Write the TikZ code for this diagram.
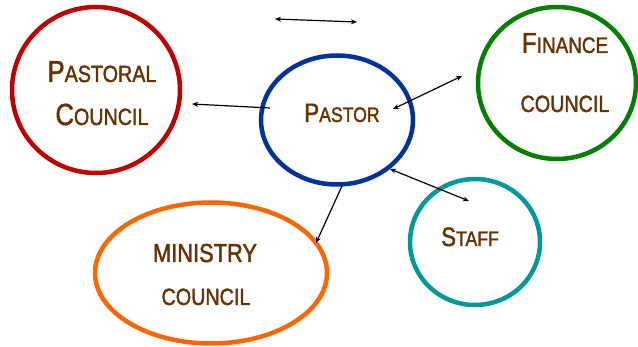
\documentclass[tikz,border=0pt]{standalone}
\usepackage{fontspec}
\newfontfamily\twfont[FakeStretch=0.84,FakeBold=1.6]{Liberation Sans}
\usetikzlibrary{shapes.geometric,arrows.meta}
\definecolor{brn}{HTML}{663300}
\definecolor{cred}{HTML}{C00000}
\definecolor{cblue}{HTML}{003399}
\definecolor{cgreen}{HTML}{008000}
\definecolor{corange}{HTML}{FF6600}
\definecolor{cteal}{HTML}{009999}
\newcommand\fsz[2]{{\fontsize{#1}{#1}\selectfont #2}}
\begin{document}
\begin{tikzpicture}[x=1pt,y=-1pt,
  bubble/.style={ellipse,draw,line width=4.5pt,inner sep=0pt,outer sep=0pt},
  lbl/.style={anchor=base,text=brn,inner sep=0pt,font=\twfont},
  conn/.style={line width=1.2pt,-{Stealth[length=6pt,width=5pt]}},
  conn2/.style={line width=1.2pt,{Stealth[length=6pt,width=5pt]}-{Stealth[length=6pt,width=5pt]}}]
\useasboundingbox (0,0) rectangle (638,347);
% bubbles
\node[bubble,draw=cred,minimum width=168pt,minimum height=166pt] (pc) at (96,90) {};
\node[bubble,draw=cblue,minimum width=152pt,minimum height=129pt] (pa) at (337,120) {};
\node[bubble,draw=cgreen,minimum width=158pt,minimum height=152pt] (fc) at (557,83) {};
\node[bubble,draw=corange,minimum width=232pt,minimum height=141pt] (mc) at (211,273) {};
\node[bubble,draw=cteal,minimum width=130pt,minimum height=126pt] (st) at (475,242) {};
% labels
\node[lbl] (pc1) at (102,82) {\fsz{30.5}{P}\fsz{23.5}{ASTORAL}};
\node[lbl] (pc2) at (102,125) {\fsz{30.5}{C}\fsz{23.5}{OUNCIL}};
\node[lbl] (pa1) at (342,122) {\fsz{26.5}{P}\fsz{21}{ASTOR}};
\node[lbl] (fc1) at (565,53) {\fsz{29}{F}\fsz{22.5}{INANCE}};
\node[lbl] (fc2) at (565,112) {\fsz{23.5}{COUNCIL}};
\node[lbl] (mc1) at (205,262) {\fsz{26}{MINISTRY}};
\node[lbl] (mc2) at (206,305) {\fsz{23.5}{COUNCIL}};
\node[lbl] (st1) at (470,246) {\fsz{26.5}{S}\fsz{21}{TAFF}};
% connector end points
\coordinate (t1) at (275,19);
\coordinate (t2) at (357,22);
\coordinate (a1) at (270,108);
\coordinate (a2) at (192,104);
\coordinate (b1) at (393,109);
\coordinate (b2) at (462,76);
\coordinate (c1) at (342,186);
\coordinate (c2) at (316,243);
\coordinate (d1) at (390,169);
\coordinate (d2) at (469,201);
\draw[conn2] (t1) -- (t2);
\draw[conn] (a1) -- (a2);
\draw[conn2] (b1) -- (b2);
\draw[conn] (c1) -- (c2);
\draw[conn2] (d1) -- (d2);
\end{tikzpicture}
\end{document}
